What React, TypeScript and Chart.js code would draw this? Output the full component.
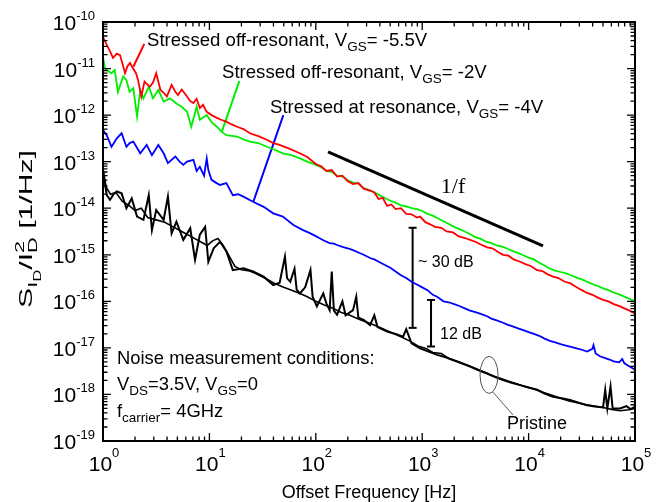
import React, { useEffect, useRef } from 'react';
import { Chart, registerables } from 'chart.js';
Chart.register(...registerables);

// All data pairs are [log10(frequency in Hz), log10(S_ID/I_D^2 in 1/Hz)]
const redPoints: [number, number][] = [
  [0, -10.32], [0.035, -10.49], [0.06, -10.6], [0.094, -10.77], [0.13, -10.68], [0.16, -10.71],
  [0.19, -10.95], [0.207, -11.1], [0.23, -10.95], [0.254, -10.88], [0.28, -10.99], [0.31, -11.1],
  [0.33, -11.25], [0.36, -11.6], [0.39, -11.28], [0.42, -11.35], [0.44, -11.39], [0.47, -11.3],
  [0.5, -11.1], [0.54, -11.46], [0.57, -11.52], [0.6, -11.6], [0.645, -11.35], [0.68, -11.5],
  [0.705, -11.57], [0.74, -11.45], [0.79, -11.6], [0.82, -11.7], [0.85, -11.74], [0.88, -11.65],
  [0.91, -11.85], [0.94, -11.78], [0.975, -11.93], [1.02, -12.0], [1.07, -12.06], [1.11, -12.1],
  [1.16, -12.14], [1.21, -12.2], [1.26, -12.25], [1.32, -12.3], [1.38, -12.39], [1.46, -12.45],
  [1.54, -12.53], [1.6, -12.6], [1.66, -12.64], [1.75, -12.72], [1.85, -12.82], [1.92, -12.9],
  [2.0, -13.05], [2.05, -13.1], [2.1, -13.2], [2.15, -13.18], [2.2, -13.32], [2.25, -13.3],
  [2.3, -13.42], [2.35, -13.48], [2.4, -13.46], [2.45, -13.58], [2.51, -13.62], [2.55, -13.66],
  [2.59, -13.8], [2.63, -13.78], [2.67, -13.95], [2.71, -13.92], [2.75, -14.02], [2.8, -14.0],
  [2.85, -14.12], [2.9, -14.13], [2.95, -14.2], [2.98, -14.18], [3.03, -14.3], [3.07, -14.34],
  [3.12, -14.4], [3.18, -14.42], [3.23, -14.5], [3.29, -14.52], [3.34, -14.6], [3.4, -14.64],
  [3.45, -14.68], [3.5, -14.72], [3.55, -14.78], [3.61, -14.84], [3.66, -14.86], [3.72, -14.95],
  [3.76, -15.0], [3.81, -15.02], [3.86, -15.1], [3.92, -15.15], [3.97, -15.2], [4.02, -15.24],
  [4.08, -15.33], [4.13, -15.35], [4.18, -15.42], [4.23, -15.47], [4.28, -15.5], [4.34, -15.58],
  [4.39, -15.61], [4.44, -15.68], [4.5, -15.76], [4.55, -15.82], [4.6, -15.86], [4.65, -15.92],
  [4.7, -15.97], [4.75, -16.0], [4.8, -16.06], [4.86, -16.11], [4.9, -16.15], [4.95, -16.2], [5.0, -16.26],
];

const greenPoints: [number, number][] = [
  [0, -10.75], [0.02, -11.0], [0.035, -11.03], [0.08, -11.1], [0.11, -11.03], [0.14, -11.5],
  [0.17, -11.3], [0.19, -11.17], [0.22, -11.25], [0.25, -11.5], [0.285, -11.42], [0.32, -12.03],
  [0.35, -11.46], [0.38, -11.64], [0.43, -11.39], [0.47, -11.64], [0.52, -11.46], [0.57, -11.71],
  [0.63, -11.64], [0.69, -11.75], [0.74, -11.82], [0.79, -11.93], [0.83, -12.25], [0.88, -11.82],
  [0.91, -12.1], [0.975, -12.0], [1.02, -12.15], [1.07, -12.25], [1.11, -12.35], [1.16, -12.43],
  [1.26, -12.46], [1.32, -12.52], [1.38, -12.57], [1.46, -12.6], [1.54, -12.68], [1.62, -12.75],
  [1.69, -12.82], [1.77, -12.86], [1.85, -12.93], [1.92, -13.0],
  [2.0, -13.07], [2.05, -13.12], [2.1, -13.2], [2.15, -13.22], [2.2, -13.3], [2.25, -13.32],
  [2.3, -13.4], [2.35, -13.45], [2.4, -13.47], [2.45, -13.57], [2.51, -13.62], [2.55, -13.66],
  [2.6, -13.72], [2.65, -13.78], [2.7, -13.84], [2.75, -13.88], [2.8, -13.94], [2.85, -13.96],
  [2.9, -14.0], [2.95, -14.02], [3.0, -14.06], [3.05, -14.12], [3.1, -14.16], [3.15, -14.22],
  [3.2, -14.28], [3.25, -14.34], [3.3, -14.4], [3.35, -14.45], [3.4, -14.5], [3.45, -14.56],
  [3.5, -14.62], [3.55, -14.66], [3.6, -14.72], [3.65, -14.75], [3.7, -14.8], [3.76, -14.83],
  [3.8, -14.87], [3.85, -14.92], [3.9, -14.96], [3.95, -15.01], [4.0, -15.06], [4.05, -15.1],
  [4.1, -15.17], [4.15, -15.23], [4.2, -15.3], [4.25, -15.34], [4.3, -15.37], [4.35, -15.4],
  [4.4, -15.44], [4.45, -15.49], [4.5, -15.53], [4.55, -15.58], [4.6, -15.63], [4.65, -15.67],
  [4.7, -15.72], [4.75, -15.76], [4.8, -15.81], [4.85, -15.85], [4.9, -15.9], [4.95, -15.95], [5.0, -16.0],
];

const bluePoints: [number, number][] = [
  [0, -12.32], [0.035, -12.43], [0.08, -12.68], [0.13, -12.5], [0.175, -12.39], [0.22, -12.68],
  [0.25, -12.6], [0.285, -12.57], [0.35, -12.82], [0.41, -12.64], [0.46, -12.86], [0.52, -12.64],
  [0.57, -12.82], [0.61, -13.03], [0.68, -12.89], [0.72, -13.0], [0.755, -13.07], [0.79, -13.0],
  [0.85, -12.96], [0.88, -13.2], [0.91, -13.11], [0.95, -13.3], [0.975, -12.93], [0.99, -13.18],
  [1.02, -13.39], [1.06, -13.45], [1.1, -13.5], [1.16, -13.46], [1.22, -13.72], [1.27, -13.7],
  [1.32, -13.75], [1.41, -13.86], [1.51, -13.97], [1.6, -14.11], [1.69, -14.18], [1.79, -14.36],
  [1.88, -14.47], [1.94, -14.53],
  [2.0, -14.6], [2.04, -14.65], [2.08, -14.7], [2.13, -14.75], [2.17, -14.76], [2.2, -14.79],
  [2.25, -14.83], [2.3, -14.86], [2.35, -14.9], [2.4, -14.95], [2.45, -15.0], [2.51, -15.07],
  [2.55, -15.1], [2.6, -15.16], [2.65, -15.22], [2.7, -15.28], [2.75, -15.36], [2.8, -15.44],
  [2.85, -15.5], [2.9, -15.58], [2.95, -15.64], [3.0, -15.7], [3.05, -15.76], [3.1, -15.86],
  [3.14, -15.9], [3.2, -16.0], [3.25, -16.02], [3.3, -16.06], [3.35, -16.1], [3.4, -16.15],
  [3.45, -16.2], [3.5, -16.23], [3.55, -16.27], [3.61, -16.32], [3.65, -16.37], [3.7, -16.41],
  [3.76, -16.46], [3.8, -16.5], [3.85, -16.54], [3.9, -16.58], [3.95, -16.62], [4.0, -16.66],
  [4.05, -16.7], [4.1, -16.74], [4.15, -16.8], [4.2, -16.85], [4.25, -16.88], [4.3, -16.92],
  [4.35, -16.95], [4.4, -16.98], [4.45, -17.01], [4.5, -17.04], [4.55, -17.08], [4.6, -17.02],
  [4.61, -16.94], [4.63, -17.12], [4.67, -17.18], [4.72, -17.22], [4.76, -17.25], [4.8, -17.29],
  [4.85, -17.31], [4.88, -17.24], [4.9, -17.33], [4.95, -17.4], [5.0, -17.47],
];

const pristineA: [number, number][] = [
  [0, -13.25], [0.02, -13.5], [0.035, -13.72], [0.066, -13.82], [0.1, -13.7], [0.13, -13.64],
  [0.175, -13.68], [0.22, -14.0], [0.27, -13.79], [0.32, -14.18], [0.38, -14.25], [0.43, -13.72],
  [0.46, -14.47], [0.5, -14.04], [0.57, -14.25], [0.61, -13.75], [0.645, -14.54], [0.69, -14.29],
  [0.755, -14.68], [0.82, -14.43], [0.865, -15.11], [0.91, -14.57], [0.96, -14.4], [0.99, -15.15],
  [1.04, -14.86], [1.1, -14.72], [1.16, -14.93], [1.22, -15.33], [1.32, -15.29], [1.41, -15.36],
  [1.51, -15.47], [1.6, -15.65], [1.66, -15.6], [1.71, -15.04], [1.73, -15.5], [1.76, -15.58],
  [1.8, -15.3], [1.82, -15.75], [1.85, -15.83], [1.9, -15.7], [1.95, -15.33], [1.97, -15.9],
  [2.01, -16.11], [2.07, -15.83], [2.1, -16.05], [2.13, -16.19], [2.15, -15.36], [2.17, -16.2],
  [2.2, -16.29], [2.25, -16.0], [2.28, -16.3], [2.35, -16.19], [2.38, -15.9], [2.4, -16.35],
  [2.45, -16.4], [2.51, -16.51], [2.55, -16.3], [2.58, -16.55], [2.67, -16.65], [2.75, -16.7],
  [2.82, -16.76], [2.85, -16.6], [2.9, -16.9], [2.98, -17.01], [3.06, -17.08], [3.14, -17.15],
  [3.22, -17.2], [3.29, -17.26], [3.37, -17.33], [3.45, -17.4], [3.53, -17.48], [3.61, -17.55],
  [3.68, -17.62], [3.76, -17.69], [3.84, -17.75], [3.92, -17.8], [4.0, -17.85], [4.08, -17.9],
  [4.15, -17.98], [4.23, -18.05], [4.31, -18.08], [4.39, -18.12], [4.47, -18.18], [4.55, -18.23],
  [4.62, -18.26], [4.7, -18.28], [4.72, -17.9], [4.74, -18.3], [4.77, -17.83], [4.79, -18.3],
  [4.86, -18.3], [4.92, -18.25], [4.96, -18.32], [5.0, -18.26],
];

const pristineB: [number, number][] = [
  [0, -13.14], [0.03, -13.55], [0.07, -13.7], [0.12, -13.66], [0.18, -13.85], [0.25, -13.95],
  [0.3, -14.05], [0.36, -14.0], [0.42, -14.2], [0.5, -14.25], [0.58, -14.3], [0.66, -14.4],
  [0.74, -14.5], [0.82, -14.6], [0.9, -14.7], [0.98, -14.8], [1.03, -14.7], [1.08, -14.65],
  [1.13, -14.8], [1.18, -15.0], [1.24, -15.25], [1.3, -15.32], [1.38, -15.35], [1.45, -15.42],
  [1.52, -15.5], [1.6, -15.6], [1.68, -15.68], [1.76, -15.75], [1.84, -15.82], [1.92, -15.9],
  [2.0, -16.0], [2.08, -16.08], [2.16, -16.15], [2.24, -16.24], [2.32, -16.3], [2.4, -16.38],
  [2.48, -16.45], [2.56, -16.52], [2.64, -16.6], [2.72, -16.68], [2.8, -16.76], [2.88, -16.85],
  [2.96, -16.96], [3.04, -17.02], [3.1, -17.1], [3.18, -17.12], [3.26, -17.24], [3.34, -17.3],
  [3.42, -17.37], [3.5, -17.44], [3.58, -17.52], [3.66, -17.6], [3.74, -17.66], [3.82, -17.72],
  [3.9, -17.78], [3.98, -17.84], [4.06, -17.89], [4.14, -17.96], [4.22, -18.02], [4.3, -18.08],
  [4.38, -18.14], [4.46, -18.18], [4.54, -18.22], [4.62, -18.25], [4.7, -18.28], [4.78, -18.32],
  [4.86, -18.35], [4.94, -18.33], [5.0, -18.3],
];

// annotation lines (same log coordinates)
const redLeader: [number, number][] = [[0.285, -10.96], [0.388, -10.47]];
const greenLeader: [number, number][] = [[1.281, -11.27], [1.116, -12.36]];
const blueLeader: [number, number][] = [[1.695, -12.0], [1.413, -13.86]];
const oneOverFLine: [number, number][] = [[2.115, -12.79], [4.135, -14.81]];
const bar30dB: [number, number][] = [[2.91, -14.42], [2.91, -16.57]];
const bar12dB: [number, number][] = [[3.083, -15.97], [3.083, -16.97]];
const pristineLeader: [number, number][] = [[3.665, -17.95], [3.853, -18.44]];
const pristineEllipse: [number, number] = [3.628, -17.58];

const xTickExps = [0, 1, 2, 3, 4, 5];
const yTickExps = [-10, -11, -12, -13, -14, -15, -16, -17, -18, -19];

const FONT = '"Liberation Sans", Arial, Helvetica, sans-serif';

type Seg = { t: string; s: number; dy: number; over?: boolean };

function measureRich(ctx: CanvasRenderingContext2D, segs: Seg[]) {
  const widths = segs.map((g) => {
    ctx.font = `${g.s}px ${FONT}`;
    return ctx.measureText(g.t).width;
  });
  let total = 0;
  let prevStart = 0;
  let prevW = 0;
  segs.forEach((g, i) => {
    if (g.over) {
      total = prevStart + Math.max(prevW, widths[i]);
    } else {
      prevStart = total;
      prevW = widths[i];
      total += widths[i];
    }
  });
  return { widths, total };
}

function drawRich(ctx: CanvasRenderingContext2D, x: number, y: number, segs: Seg[], align: 'left' | 'center' | 'right' = 'left') {
  const { widths, total } = measureRich(ctx, segs);
  const x0 = align === 'center' ? x - total / 2 : align === 'right' ? x - total : x;
  let pos = 0;
  let prevStart = 0;
  let prevW = 0;
  ctx.textAlign = 'left';
  ctx.textBaseline = 'alphabetic';
  segs.forEach((g, i) => {
    ctx.font = `${g.s}px ${FONT}`;
    if (g.over) {
      ctx.fillText(g.t, x0 + prevStart, y + g.dy);
      pos = prevStart + Math.max(prevW, widths[i]);
    } else {
      ctx.fillText(g.t, x0 + pos, y + g.dy);
      prevStart = pos;
      prevW = widths[i];
      pos += widths[i];
    }
  });
}

const toXY = (pts: [number, number][]) => pts.map(([lf, ls]) => ({ x: Math.pow(10, lf), y: Math.pow(10, ls) }));

const overlayPlugin = {
  id: 'overlay',
  afterDatasetsDraw(chart: any) {
    const { ctx, chartArea: a, scales } = chart;
    const xs = scales.x;
    const ys = scales.y;
    ctx.save();
    ctx.strokeStyle = '#000';
    ctx.fillStyle = '#000';
    // ticks, all four sides, inward
    ctx.lineWidth = 1.3;
    ctx.beginPath();
    for (let e = 0; e <= 5; e++) {
      for (let m = 1; m <= 9; m++) {
        if (e === 5 && m > 1) break;
        const px = xs.getPixelForValue(m * Math.pow(10, e));
        const len = m === 1 ? 8 : 4.5;
        ctx.moveTo(px, a.bottom);
        ctx.lineTo(px, a.bottom - len);
        ctx.moveTo(px, a.top);
        ctx.lineTo(px, a.top + len);
      }
    }
    for (let e = -19; e <= -10; e++) {
      for (let m = 1; m <= 9; m++) {
        if (e === -10 && m > 1) break;
        const py = ys.getPixelForValue(m * Math.pow(10, e));
        const len = m === 1 ? 8 : 4.5;
        ctx.moveTo(a.left, py);
        ctx.lineTo(a.left + len, py);
        ctx.moveTo(a.right, py);
        ctx.lineTo(a.right - len, py);
      }
    }
    ctx.stroke();
    // frame
    ctx.lineWidth = 2;
    ctx.strokeRect(a.left, a.top, a.right - a.left, a.bottom - a.top);

    // tick labels
    xTickExps.forEach((e) => {
      const px = xs.getPixelForValue(Math.pow(10, e));
      drawRich(ctx, px + 1, a.bottom + 30, [
        { t: '10', s: 21, dy: 0 },
        { t: String(e), s: 13, dy: -14 },
      ], 'center');
    });
    yTickExps.forEach((e) => {
      const py = ys.getPixelForValue(Math.pow(10, e));
      drawRich(ctx, a.left - 8, py + 8, [
        { t: '10', s: 21, dy: 0 },
        { t: String(e), s: 13, dy: -10 },
      ], 'right');
    });

    // axis titles
    drawRich(ctx, (a.left + a.right) / 2, 498, [{ t: 'Offset Frequency [Hz]', s: 18, dy: 0 }], 'center');
    const ySegs: Seg[] = [
      { t: 'S', s: 18, dy: 0 },
      { t: 'I', s: 13, dy: 5 },
      { t: 'D', s: 10, dy: 9 },
      { t: '/I', s: 18, dy: 0 },
      { t: 'D', s: 13, dy: 5 },
      { t: '2', s: 13, dy: -8, over: true },
      { t: ' [1/Hz]', s: 18, dy: 0 },
    ];
    const yLen = measureRich(ctx, ySegs).total;
    ctx.save();
    ctx.translate(32, 229);
    ctx.rotate(-Math.PI / 2);
    ctx.scale(158 / yLen, 1);
    drawRich(ctx, 0, 0, ySegs, 'center');
    ctx.restore();

    // curve labels
    drawRich(ctx, 147, 45.5, [
      { t: 'Stressed off-resonant, V', s: 18.6, dy: 0 },
      { t: 'GS', s: 13.5, dy: 5 },
      { t: '= -5.5V', s: 18.6, dy: 0 },
    ]);
    drawRich(ctx, 222, 77.5, [
      { t: 'Stressed off-resonant, V', s: 18.6, dy: 0 },
      { t: 'GS', s: 13.5, dy: 5 },
      { t: '= -2V', s: 18.6, dy: 0 },
    ]);
    drawRich(ctx, 270, 113, [
      { t: 'Stressed at resonance, V', s: 18.6, dy: 0 },
      { t: 'GS', s: 13.5, dy: 5 },
      { t: '= -4V', s: 18.6, dy: 0 },
    ]);

    // conditions
    drawRich(ctx, 117, 364, [{ t: 'Noise measurement conditions:', s: 18.4, dy: 0 }]);
    drawRich(ctx, 117, 390, [
      { t: 'V', s: 18.4, dy: 0 },
      { t: 'DS', s: 13.5, dy: 5 },
      { t: '=3.5V, V', s: 18.4, dy: 0 },
      { t: 'GS', s: 13.5, dy: 5 },
      { t: '=0', s: 18.4, dy: 0 },
    ]);
    drawRich(ctx, 117, 416.5, [
      { t: 'f', s: 18.4, dy: 0 },
      { t: 'carrier', s: 13.5, dy: 5 },
      { t: '= 4GHz', s: 18.4, dy: 0 },
    ]);

    // 1/f, dB and pristine labels
    ctx.font = '22px "Liberation Serif", "Times New Roman", serif';
    ctx.textAlign = 'center';
    ctx.fillText('1/f', 453, 193);
    drawRich(ctx, 418, 267, [{ t: '~ 30 dB', s: 16, dy: 0 }]);
    drawRich(ctx, 440, 338.5, [{ t: '12 dB', s: 16, dy: 0 }]);
    drawRich(ctx, 507, 428.5, [{ t: 'Pristine', s: 18, dy: 0 }]);

    // pristine ellipse
    const ex = xs.getPixelForValue(Math.pow(10, pristineEllipse[0]));
    const ey = ys.getPixelForValue(Math.pow(10, pristineEllipse[1]));
    ctx.strokeStyle = '#555';
    ctx.lineWidth = 1;
    ctx.beginPath();
    ctx.ellipse(ex, ey, 9, 18.5, 0, 0, Math.PI * 2);
    ctx.stroke();
    ctx.restore();
  },
};

export default function App() {
  const ref = useRef<HTMLCanvasElement | null>(null);
  useEffect(() => {
    if (!ref.current) return;
    const line = (pts: [number, number][], color: string, width: number, extra: any = {}) => ({
      data: toXY(pts),
      borderColor: color,
      backgroundColor: color,
      borderWidth: width,
      showLine: true,
      pointRadius: 0,
      pointHoverRadius: 0,
      tension: 0,
      fill: false,
      ...extra,
    });
    const barExtra = { pointRadius: 4, pointStyle: 'line', pointBorderWidth: 2, pointBorderColor: '#000' };
    const chart = new Chart(ref.current, {
      type: 'scatter',
      data: {
        datasets: [
          line(pristineB, '#000', 1.6),
          line(pristineA, '#000', 2),
          line(bluePoints, '#0000ff', 1.8),
          line(redPoints, '#ff0000', 1.8),
          line(greenPoints, '#00ee00', 1.8),
          line(redLeader, '#ff0000', 2, { clip: false }),
          line(greenLeader, '#00ee00', 2, { clip: false }),
          line(blueLeader, '#0000ff', 2, { clip: false }),
          line(oneOverFLine, '#000', 3),
          line(bar30dB, '#000', 2, barExtra),
          line(bar12dB, '#000', 2, barExtra),
          line(pristineLeader, '#555', 1),
        ],
      },
      options: {
        animation: false,
        responsive: false,
        events: [],
        layout: { padding: { left: 0, right: 30, top: 22, bottom: 0 } },
        plugins: { legend: { display: false }, tooltip: { enabled: false } },
        scales: {
          x: {
            type: 'logarithmic',
            min: 1,
            max: 1e5,
            grid: { display: false },
            border: { display: false },
            ticks: { display: false },
            afterFit: (s: any) => { s.height = 61; },
          },
          y: {
            type: 'logarithmic',
            min: 1e-19,
            max: 1e-10,
            grid: { display: false },
            border: { display: false },
            ticks: { display: false },
            afterFit: (s: any) => { s.width = 103; },
          },
        },
      },
      plugins: [overlayPlugin],
    } as any);
    return () => chart.destroy();
  }, []);
  return (
    <div style={{ position: 'fixed', left: 0, top: 0, width: 665, height: 502, background: '#fff' }}>
      <canvas ref={ref} width={665} height={502} style={{ display: 'block' }} />
    </div>
  );
}
